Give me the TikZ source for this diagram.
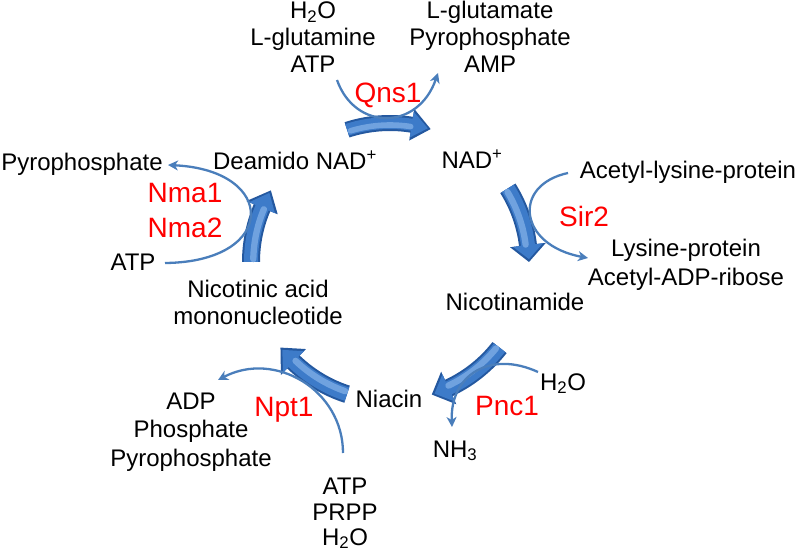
\documentclass[tikz,border=0pt]{standalone}
\usepackage{fontspec}
\setmainfont{Liberation Sans}
\usetikzlibrary{arrows.meta}
\definecolor{thinblue}{HTML}{4A7EBB}
\definecolor{bigdark}{HTML}{24589F}
\definecolor{bigmid}{HTML}{3D7BC9}
\definecolor{biglight}{HTML}{79AAE4}
\definecolor{enzred}{HTML}{FF0000}
\newcommand\cyclearrow[5]{%
  \pgfmathsetmacro\ro{139+#4}\pgfmathsetmacro\ri{139-#4}%
  \pgfmathsetmacro\hro{139+#5}\pgfmathsetmacro\hri{139-#5}%
  \pgfmathsetmacro\rh{139-0.25*#4}%
  \begin{scope}[shift={(390,262)}]
    \fill[bigdark] (#1:\ro) arc[start angle=#1, end angle=#2, radius=\ro] -- (#2:\hro) -- (#3:139) -- (#2:\hri) -- (#2:\ri) arc[start angle=#2, end angle=#1, radius=\ri] -- cycle;
    \fill[bigmid] (#1:\ro-2) arc[start angle=#1, end angle=#2, radius=\ro-2] -- (#2:\hro-3) -- (#3-1.2:139) -- (#2:\hri+3) -- (#2:\ri+2) arc[start angle=#2, end angle=#1, radius=\ri+2] -- cycle;
    \draw[biglight, opacity=0.85, line width=0.7*#4, line cap=round] (#1+1.2:\rh) arc[start angle=#1+1.2, end angle=#2-0.3, radius=\rh];
  \end{scope}}
\tikzset{
  txt/.style={anchor=base, inner sep=0pt, font=\fontsize{24}{27}\selectfont},
  enz/.style={anchor=base, inner sep=0pt, font=\fontsize{28}{30}\selectfont, text=enzred},
  thin/.style={draw=thinblue, line width=2.3pt, -{Stealth[length=10pt,width=10pt,inset=3pt]}}
}
\begin{document}
\begin{tikzpicture}[x=1pt,y=-1pt]
\useasboundingbox (0,0) rectangle (800,553);
% big cycle arrows
\cyclearrow{-108}{-81}{-73}{8}{16}
\cyclearrow{-32}{-7}{0}{9}{18}
\cyclearrow{38}{65}{72.5}{9}{18}
\cyclearrow{108}{134}{142}{9}{18}
\cyclearrow{180}{203}{211}{9}{17}
% texts
\node[txt] (h2oA) at (313,19) {H\textsubscript{2}O};
\node[txt] (glnA) at (313,46) {L-glutamine};
\node[txt] (atpA) at (313,73) {ATP};
\node[txt] (glu) at (490,19) {L-glutamate};
\node[txt] (ppA) at (490,46) {Pyrophosphate};
\node[txt] (amp) at (490,73) {AMP};
\node[enz] (qns) at (388,103) {Qns1};
\node[txt] (dnad) at (295,170) {Deamido NAD\textsuperscript{+}};
\node[txt] (nad) at (472,169) {NAD\textsuperscript{+}};
\node[txt] (ppB) at (82,171) {Pyrophosphate};
\node[enz] (nma1) at (185,203) {Nma1};
\node[enz] (nma2) at (185,238) {Nma2};
\node[txt] (atpB) at (133,270) {ATP};
\node[txt] (nic1) at (258,297) {Nicotinic acid};
\node[txt] (nic2) at (258,324) {mononucleotide};
\node[txt] (nam) at (515,310) {Nicotinamide};
\node[txt] (acl) at (688,179) {Acetyl-lysine-protein};
\node[enz] (sir) at (584,227) {Sir2};
\node[txt] (lys) at (686,257) {Lysine-protein};
\node[txt] (aadp) at (686,285) {Acetyl-ADP-ribose};
\node[txt] (nia) at (389,407) {Niacin};
\node[enz] (npt) at (284,416) {Npt1};
\node[enz] (pnc) at (507,415) {Pnc1};
\node[txt] (h2oB) at (563,390) {H\textsubscript{2}O};
\node[txt] (nh3) at (455,457) {NH\textsubscript{3}};
\node[txt] (adp) at (191,409) {ADP};
\node[txt] (pho) at (191,437) {Phosphate};
\node[txt] (ppC) at (191,466) {Pyrophosphate};
\node[txt] (atpC) at (345,494) {ATP};
\node[txt] (prpp) at (345,520) {PRPP};
\node[txt] (h2oC) at (345,545) {H\textsubscript{2}O};
% thin reaction arrows
\coordinate (qs) at (337,80); \coordinate (qe) at (438,73);
\draw[thin] (qs) .. controls (355,131) and (418,131) .. (qe);
\coordinate (ss) at (568,173); \coordinate (se) at (588,258);
\draw[thin] (ss) .. controls (512,185) and (518,245) .. (se);
\coordinate (ms) at (165,263); \coordinate (me) at (168,165);
\draw[thin] (ms) .. controls (278,262) and (278,170) .. (me);
\coordinate (ns) at (343,453); \coordinate (ne) at (218,380);
\draw[thin] (ns) .. controls (343,390) and (275,350) .. (ne);
\coordinate (ps) at (538,372); \coordinate (pe) at (452,427);
\draw[thin] (ps) .. controls (490,350) and (450,375) .. (pe);
\end{tikzpicture}
\end{document}
